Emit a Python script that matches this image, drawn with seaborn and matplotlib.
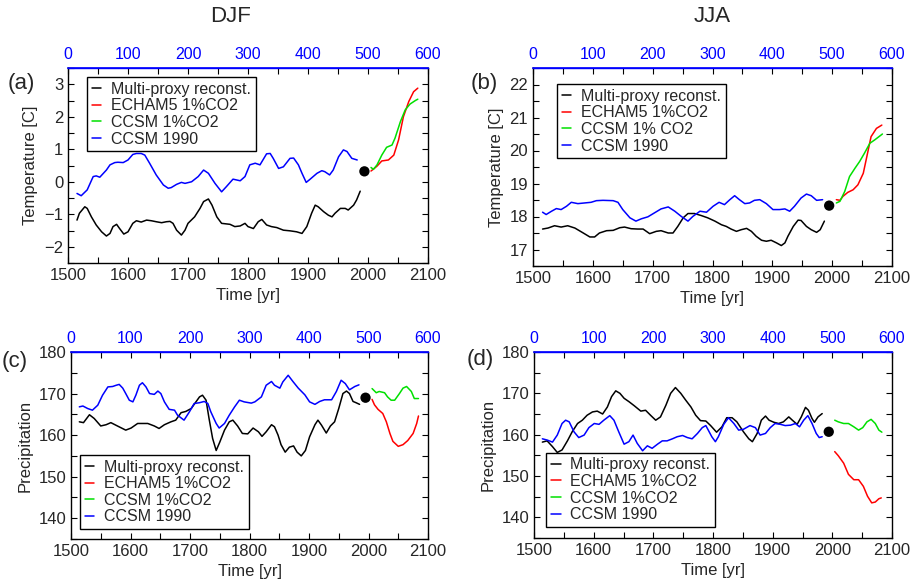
"""Multi-proxy reconstructions vs CCSM / ECHAM5 runs, DJF and JJA, 4 panels."""

import matplotlib
matplotlib.use("Agg")
import matplotlib.pyplot as plt
from matplotlib.ticker import FixedLocator, MultipleLocator
import seaborn as sns

# ---- (a) DJF temperature ----
A_PROXY_YR = [1515, 1519, 1528, 1532, 1539, 1547, 1556, 1564, 1570, 1575, 1581, 1586, 1593, 1600,
              1608, 1614, 1622, 1631, 1639, 1647, 1656, 1664, 1670, 1675, 1681, 1689, 1695, 1700,
              1711, 1720, 1726, 1734, 1740, 1748, 1756, 1770, 1778, 1787, 1795, 1800, 1809, 1817,
              1823, 1831, 1839, 1848, 1859, 1870, 1881, 1890, 1898, 1906, 1912, 1917, 1926, 1934,
              1940, 1945, 1954, 1962, 1967, 1976, 1981, 1987]
A_PROXY = [-1.18, -0.97, -0.77, -0.82, -1.08, -1.33, -1.54, -1.67, -1.59, -1.38, -1.31, -1.44, -1.61,
           -1.54, -1.28, -1.20, -1.24, -1.18, -1.20, -1.23, -1.26, -1.23, -1.22, -1.28, -1.49, -1.64,
           -1.49, -1.28, -1.08, -0.82, -0.61, -0.53, -0.72, -1.08, -1.28, -1.31, -1.38, -1.36, -1.28,
           -1.38, -1.44, -1.23, -1.16, -1.33, -1.38, -1.41, -1.49, -1.51, -1.54, -1.59, -1.38, -0.97,
           -0.72, -0.77, -0.92, -1.03, -1.08, -0.97, -0.82, -0.82, -0.87, -0.72, -0.56, -0.29]
A_CTRL_YR = [1515, 1522, 1532, 1542, 1547, 1553, 1564, 1570, 1578, 1583, 1592, 1600, 1608, 1614,
             1622, 1628, 1636, 1647, 1659, 1667, 1672, 1681, 1689, 1695, 1706, 1717, 1726, 1734,
             1745, 1756, 1764, 1775, 1787, 1795, 1803, 1812, 1820, 1831, 1837, 1842, 1851, 1859,
             1870, 1876, 1884, 1890, 1897, 1903, 1915, 1923, 1928, 1936, 1942, 1951, 1959, 1965,
             1973, 1982]
A_CTRL = [-0.36, -0.43, -0.25, 0.16, 0.18, 0.14, 0.36, 0.52, 0.59, 0.60, 0.59, 0.67, 0.84, 0.87,
          0.87, 0.82, 0.57, 0.21, -0.10, -0.20, -0.18, -0.08, -0.02, -0.05, 0.00, 0.16, 0.36, 0.26,
          -0.05, -0.31, -0.15, 0.08, 0.03, 0.16, 0.52, 0.57, 0.52, 0.86, 0.87, 0.72, 0.41, 0.46,
          0.72, 0.73, 0.52, 0.26, -0.02, 0.07, 0.26, 0.34, 0.31, 0.21, 0.36, 0.77, 0.98, 0.93,
          0.72, 0.67]
A_ECHAM_YR = [2005, 2015, 2023, 2034, 2043, 2051, 2059, 2068, 2076, 2083]
A_ECHAM = [0.33, 0.48, 0.64, 0.67, 0.82, 1.29, 2.00, 2.47, 2.77, 2.88]
A_CCSM_YR = [2005, 2009, 2015, 2023, 2031, 2040, 2045, 2054, 2062, 2070, 2079, 2083]
A_CCSM = [0.44, 0.38, 0.52, 0.82, 1.06, 1.13, 1.34, 1.85, 2.21, 2.39, 2.50, 2.54]
A_DOT = (1994, 0.32)

# ---- (b) JJA temperature ----
B_PROXY_YR = [1516, 1525, 1536, 1547, 1558, 1570, 1584, 1595, 1603, 1611, 1623, 1634, 1645, 1653,
              1664, 1675, 1684, 1695, 1706, 1714, 1726, 1734, 1742, 1751, 1759, 1770, 1781, 1792,
              1804, 1815, 1823, 1831, 1840, 1848, 1857, 1865, 1873, 1882, 1890, 1898, 1907, 1915,
              1921, 1926, 1935, 1943, 1948, 1957, 1965, 1974, 1980, 1987]
B_PROXY = [17.62, 17.65, 17.72, 17.68, 17.72, 17.65, 17.50, 17.38, 17.38, 17.50, 17.57, 17.58,
           17.66, 17.68, 17.63, 17.62, 17.62, 17.48, 17.55, 17.57, 17.50, 17.50, 17.70, 17.96,
           18.09, 18.09, 18.03, 17.96, 17.86, 17.75, 17.70, 17.62, 17.55, 17.60, 17.64, 17.55,
           17.40, 17.28, 17.25, 17.28, 17.20, 17.12, 17.20, 17.40, 17.70, 17.89, 17.88, 17.70,
           17.60, 17.52, 17.60, 17.86]
B_CTRL_YR = [1516, 1522, 1531, 1539, 1547, 1556, 1564, 1575, 1586, 1597, 1606, 1617, 1634, 1642,
             1650, 1662, 1672, 1681, 1692, 1703, 1714, 1726, 1737, 1748, 1759, 1767, 1779, 1790,
             1801, 1811, 1820, 1829, 1837, 1845, 1854, 1862, 1870, 1879, 1890, 1901, 1912, 1921,
             1929, 1937, 1948, 1957, 1965, 1974, 1984]
B_CTRL = [18.13, 18.06, 18.16, 18.24, 18.21, 18.31, 18.43, 18.39, 18.41, 18.43, 18.48, 18.49,
          18.48, 18.43, 18.21, 17.96, 17.86, 17.93, 17.99, 18.11, 18.23, 18.29, 18.16, 18.00,
          17.86, 18.00, 18.16, 18.13, 18.31, 18.43, 18.36, 18.51, 18.63, 18.51, 18.39, 18.41,
          18.49, 18.51, 18.39, 18.21, 18.21, 18.23, 18.16, 18.31, 18.56, 18.68, 18.63, 18.49,
          18.51]
B_ECHAM_YR = [2007, 2013, 2018, 2026, 2035, 2043, 2052, 2058, 2065, 2074, 2083]
B_ECHAM = [18.51, 18.49, 18.61, 18.73, 18.81, 18.96, 19.31, 19.82, 20.42, 20.67, 20.77]
B_CCSM_YR = [2007, 2013, 2021, 2029, 2038, 2046, 2054, 2063, 2071, 2084]
B_CCSM = [18.41, 18.46, 18.76, 19.21, 19.46, 19.67, 19.92, 20.22, 20.32, 20.50]
B_DOT = (1995, 18.33)

# ---- (c) DJF precipitation ----
C_PROXY_YR = [1514, 1521, 1531, 1539, 1550, 1559, 1567, 1578, 1592, 1601, 1612, 1629, 1640, 1648,
              1657, 1668, 1676, 1685, 1693, 1702, 1710, 1716, 1721, 1727, 1732, 1738, 1744, 1750,
              1758, 1766, 1772, 1780, 1788, 1797, 1806, 1815, 1821, 1828, 1837, 1842, 1848, 1853,
              1860, 1867, 1874, 1880, 1887, 1894, 1901, 1910, 1915, 1921, 1929, 1936, 1943, 1950,
              1957, 1963, 1968, 1974, 1979, 1985]
C_PROXY = [163.2, 163.0, 164.9, 164.0, 162.2, 162.5, 163.0, 162.2, 161.2, 161.7, 162.8, 162.8,
           162.2, 161.6, 162.5, 163.2, 163.6, 165.4, 165.7, 166.4, 168.0, 169.2, 169.6, 168.4,
           164.0, 159.2, 156.3, 158.3, 161.2, 163.2, 163.6, 162.2, 160.4, 160.3, 161.7, 160.8,
           159.7, 160.8, 162.5, 162.0, 160.0, 157.7, 155.9, 157.1, 157.4, 155.9, 155.0, 156.3,
           159.6, 162.5, 163.6, 162.4, 160.5, 162.2, 163.2, 166.4, 170.0, 170.6, 170.0, 168.1,
           167.8, 167.4]
C_CTRL_YR = [1514, 1520, 1528, 1536, 1545, 1553, 1562, 1570, 1576, 1581, 1587, 1592, 1598, 1604,
             1609, 1615, 1620, 1626, 1632, 1640, 1646, 1651, 1657, 1665, 1674, 1679, 1690, 1699,
             1707, 1716, 1724, 1730, 1735, 1744, 1749, 1758, 1766, 1775, 1783, 1791, 1803, 1809,
             1820, 1828, 1837, 1842, 1851, 1856, 1865, 1873, 1882, 1893, 1901, 1910, 1918, 1926,
             1938, 1946, 1954, 1961, 1968, 1977, 1984]
C_CTRL = [166.8, 167.0, 166.4, 166.0, 167.2, 169.6, 171.6, 171.7, 172.0, 172.2, 171.3, 170.0,
          168.4, 168.0, 169.6, 172.0, 172.6, 171.6, 170.0, 169.8, 170.6, 170.0, 168.0, 166.2,
          166.0, 164.8, 163.6, 165.6, 167.6, 167.8, 168.1, 167.6, 165.6, 162.8, 161.7, 162.8,
          164.8, 166.8, 168.4, 168.0, 167.7, 168.0, 169.2, 172.0, 172.9, 172.0, 171.3, 172.8,
          174.4, 172.9, 171.3, 169.7, 168.0, 167.4, 168.1, 168.5, 168.5, 170.5, 173.2, 172.4,
          170.9, 171.7, 172.1]
C_ECHAM_YR = [2006, 2010, 2016, 2024, 2030, 2036, 2041, 2050, 2058, 2066, 2075, 2081, 2084]
C_ECHAM = [168.6, 167.3, 166.2, 165.2, 163.2, 160.4, 158.5, 157.3, 157.7, 158.7, 160.4, 162.8, 164.6]
C_CCSM_YR = [2006, 2013, 2018, 2027, 2032, 2038, 2044, 2052, 2058, 2064, 2072, 2077, 2084]
C_CCSM = [171.2, 170.2, 170.5, 170.2, 169.2, 168.4, 168.4, 170.0, 171.3, 171.7, 170.5, 168.8, 168.8]
C_DOT = (1995, 169.0)

# ---- (d) JJA precipitation ----
D_PROXY_YR = [1514, 1522, 1531, 1539, 1547, 1556, 1564, 1573, 1581, 1589, 1598, 1606, 1615, 1623,
              1630, 1637, 1644, 1651, 1659, 1668, 1679, 1687, 1696, 1704, 1712, 1721, 1729, 1737,
              1746, 1754, 1763, 1771, 1779, 1788, 1796, 1806, 1815, 1823, 1832, 1840, 1851, 1860,
              1866, 1874, 1881, 1888, 1894, 1902, 1910, 1918, 1927, 1933, 1941, 1948, 1955, 1960,
              1966, 1970, 1976, 1983]
D_PROXY = [158.2, 158.5, 157.1, 155.7, 156.3, 158.5, 160.7, 162.7, 163.5, 164.7, 165.5, 165.7,
           165.0, 166.7, 169.2, 170.6, 170.0, 168.8, 168.0, 167.0, 165.7, 165.9, 164.6, 163.5,
           164.3, 167.1, 170.0, 171.4, 170.0, 168.4, 166.7, 164.7, 163.4, 163.3, 162.2, 160.6,
           161.9, 164.1, 164.1, 163.1, 160.7, 159.0, 158.3, 160.3, 163.5, 164.5, 163.5, 163.0,
           162.7, 163.1, 164.3, 163.5, 162.5, 164.3, 166.6, 165.9, 163.9, 163.0, 164.3, 165.1]
D_CTRL_YR = [1514, 1522, 1531, 1539, 1547, 1553, 1559, 1567, 1575, 1584, 1592, 1601, 1609, 1617,
             1627, 1634, 1642, 1651, 1659, 1666, 1673, 1682, 1690, 1698, 1707, 1715, 1723, 1732,
             1740, 1749, 1757, 1765, 1774, 1782, 1788, 1798, 1804, 1809, 1818, 1826, 1835, 1843,
             1851, 1862, 1871, 1879, 1888, 1896, 1904, 1913, 1921, 1930, 1938, 1945, 1952, 1959,
             1966, 1973, 1978, 1983]
D_CTRL = [159.0, 158.7, 158.2, 159.9, 162.7, 163.5, 163.1, 160.7, 159.3, 159.9, 161.7, 162.7,
          162.5, 163.5, 164.6, 163.5, 160.7, 157.7, 158.3, 159.9, 157.9, 156.1, 157.3, 156.7,
          157.7, 158.5, 158.5, 159.0, 159.5, 159.8, 159.3, 159.0, 160.3, 161.7, 162.2, 159.5,
          158.3, 159.5, 162.5, 164.1, 162.7, 161.1, 161.3, 162.2, 161.7, 159.9, 160.3, 161.7,
          162.7, 162.5, 162.2, 162.3, 162.7, 161.9, 163.5, 164.6, 162.7, 160.3, 159.3, 159.5]
D_ECHAM_YR = [2004, 2010, 2019, 2027, 2036, 2044, 2052, 2059, 2066, 2072, 2078, 2082]
D_ECHAM = [155.9, 154.9, 153.1, 150.4, 149.1, 149.1, 147.5, 145.1, 143.5, 143.7, 144.5, 144.7]
D_CCSM_YR = [2004, 2010, 2019, 2027, 2036, 2044, 2051, 2058, 2065, 2072, 2078, 2083]
D_CCSM = [163.5, 163.1, 162.7, 162.7, 161.9, 161.1, 161.7, 163.1, 163.7, 162.7, 161.1, 160.6]
D_DOT = (1994, 160.7)

LABELS_A = ["Multi-proxy reconst.", "ECHAM5 1%CO2", "CCSM 1%CO2", "CCSM 1990"]
LABELS_B = ["Multi-proxy reconst.", "ECHAM5 1%CO2", "CCSM 1% CO2", "CCSM 1990"]
MODEL_YR_TICKS = [0, 100, 200, 300, 400, 500, 600]

W, H = 916, 583
FONT = ["Liberation Sans", "DejaVu Sans"]
FS = 12        # tick and axis labels
FS_TOP = 11.5  # blue model-year labels
FS_LEG = 11.5

sns.set_style("ticks")
plt.rcParams["font.family"] = FONT
plt.rcParams["xtick.direction"] = "in"
plt.rcParams["ytick.direction"] = "in"

GREEN = "#00e000"


def _panel(fig, box, proxy, ctrl, echam, ccsm, dot, labels, ylim, ymajor, yminor,
           ylabel, tag, tagpos, leg_loc, leg_anchor):
    l, t, r, b = box
    ax = fig.add_axes([l / W, 1 - b / H, (r - l) / W, (b - t) / H])
    lw = 1.1
    sns.lineplot(x=proxy[0], y=proxy[1], ax=ax, color="black", lw=lw, label=labels[0],
                 sort=False, estimator=None)
    sns.lineplot(x=echam[0], y=echam[1], ax=ax, color="red", lw=lw, label=labels[1],
                 sort=False, estimator=None)
    sns.lineplot(x=ccsm[0], y=ccsm[1], ax=ax, color=GREEN, lw=lw, label=labels[2],
                 sort=False, estimator=None)
    sns.lineplot(x=ctrl[0], y=ctrl[1], ax=ax, color="blue", lw=lw, label=labels[3],
                 sort=False, estimator=None)
    sns.scatterplot(x=[dot[0]], y=[dot[1]], ax=ax, color="black", s=55, edgecolor="none",
                    zorder=5, legend=False)

    ax.set_xlim(1500, 2100)
    ax.set_ylim(*ylim)
    ax.xaxis.set_major_locator(MultipleLocator(100))
    ax.xaxis.set_minor_locator(MultipleLocator(50))
    ax.yaxis.set_major_locator(MultipleLocator(ymajor))
    ax.yaxis.set_minor_locator(MultipleLocator(yminor))
    ax.tick_params(which="both", top=True, right=True, length=4, width=0.8,
                   labelsize=FS, color="black")
    for s in ax.spines.values():
        s.set_linewidth(1.0)
        s.set_color("black")
    ax.spines["top"].set_color("blue")
    ax.set_xlabel("Time [yr]", fontsize=FS)
    ax.set_ylabel(ylabel, fontsize=FS)

    # model years of the CCSM control run on top
    sec = ax.secondary_xaxis("top", functions=(lambda x: x - 1500, lambda x: x + 1500))
    sec.xaxis.set_major_locator(FixedLocator(MODEL_YR_TICKS))
    sec.tick_params(length=0, labelsize=FS_TOP, labelcolor="blue", pad=4)
    sec.spines["top"].set_color("blue")
    sec.spines["top"].set_linewidth(1.2)

    leg = ax.legend(loc=leg_loc, bbox_to_anchor=leg_anchor, borderaxespad=0,
                    fancybox=False, edgecolor="black", framealpha=1, fontsize=FS_LEG,
                    handlelength=0.6, handletextpad=0.6, labelspacing=0.1, borderpad=0.3)
    leg.get_frame().set_linewidth(1.0)

    fig.text(tagpos[0] / W, 1 - tagpos[1] / H, tag, fontsize=16, ha="center", va="center")
    return ax


fig = plt.figure(figsize=(W / 100, H / 100), dpi=100)

_panel(fig, (68, 68, 428, 263), (A_PROXY_YR, A_PROXY), (A_CTRL_YR, A_CTRL),
       (A_ECHAM_YR, A_ECHAM), (A_CCSM_YR, A_CCSM), A_DOT, LABELS_A,
       (-2.5, 3.5), 1, 0.5, "Temperature [C]", "(a)", (21, 83),
       "upper left", (0.053, 0.954))
_panel(fig, (533, 68, 892, 266), (B_PROXY_YR, B_PROXY), (B_CTRL_YR, B_CTRL),
       (B_ECHAM_YR, B_ECHAM), (B_CCSM_YR, B_CCSM), B_DOT, LABELS_B,
       (16.5, 22.5), 1, 0.5, "Temperature [C]", "(b)", (484, 83),
       "upper left", (0.067, 0.919))
_panel(fig, (71, 352, 428, 539), (C_PROXY_YR, C_PROXY), (C_CTRL_YR, C_CTRL),
       (C_ECHAM_YR, C_ECHAM), (C_CCSM_YR, C_CCSM), C_DOT, LABELS_A,
       (135, 180), 10, 5, "Precipitation", "(c)", (15, 362),
       "lower left", (0.025, 0.053))
_panel(fig, (534, 352, 892, 538), (D_PROXY_YR, D_PROXY), (D_CTRL_YR, D_CTRL),
       (D_ECHAM_YR, D_ECHAM), (D_CCSM_YR, D_CCSM), D_DOT, LABELS_A,
       (135, 180), 10, 5, "Precipitation", "(d)", (480, 360),
       "lower left", (0.034, 0.059))

fig.text(231 / W, 1 - 17 / H, "DJF", fontsize=16, ha="center", va="center")
fig.text(712 / W, 1 - 17 / H, "JJA", fontsize=16, ha="center", va="center")

fig.savefig("out.png", dpi=100)
plt.close(fig)
